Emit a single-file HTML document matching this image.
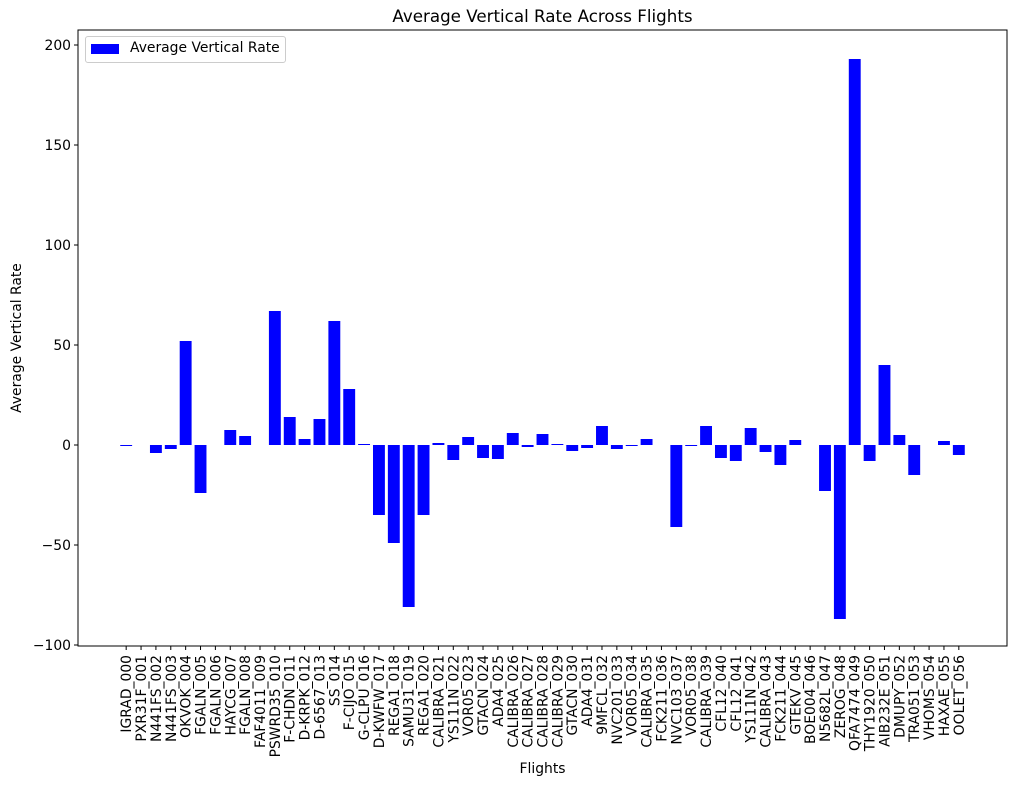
<!DOCTYPE html>
<html><head><meta charset="utf-8"><style>body{margin:0;background:#fff}svg{display:block;font-family:"DejaVu Sans","Liberation Sans",sans-serif}</style></head>
<body>
<svg id="c" width="1017" height="788"></svg>
<script>
const categories=["IGRAD_000","PXR31F_001","N441FS_002","N441FS_003","OKVOK_004","FGALN_005","FGALN_006","HAYCG_007","FGALN_008","FAF4011_009","PSWRD35_010","F-CHDN_011","D-KRPK_012","D-6567_013","SS_014","F-CIJO_015","G-CLPU_016","D-KWFW_017","REGA1_018","SAMU31_019","REGA1_020","CALIBRA_021","YS111N_022","VOR05_023","GTACN_024","ADA4_025","CALIBRA_026","CALIBRA_027","CALIBRA_028","CALIBRA_029","GTACN_030","ADA4_031","9MFCL_032","NVC201_033","VOR05_034","CALIBRA_035","FCK211_036","NVC103_037","VOR05_038","CALIBRA_039","CFL12_040","CFL12_041","YS111N_042","CALIBRA_043","FCK211_044","GTEKV_045","BOE004_046","N5682L_047","ZEROG_048","QFA7474_049","THY1920_050","AIB232E_051","DMUPY_052","TRA051_053","VHOMS_054","HAXAE_055","OOLET_056"];
const values=[-0.5,0,-4,-2,52,-24,0,7.5,4.5,0,67,14,3,13,62,28,0.5,-35,-49,-81,-35,1,-7.5,4,-6.5,-7,6,-1,5.5,0.5,-3,-1.5,9.5,-2,-0.5,3,0,-41,-0.5,9.5,-6.5,-8,8.5,-3.5,-10,2.5,0,-23,-87,193,-8,40,5,-15,0,2,-5];
const yTicks=[-100,-50,0,50,100,150,200];
const NS="http://www.w3.org/2000/svg",svg=document.getElementById('c');
const L=78,R=1007,T=30,B=646;
const n=categories.length;
const dmin=-0.4-0.05*(n-0.2),dmax=n-1+0.4+0.05*(n-0.2);
function x(i){return L+(i-dmin)/(dmax-dmin)*(R-L);}
function y(v){return 445-v*2;}
const bw=0.8*(R-L)/(dmax-dmin);
function el(t,a,p){const e=document.createElementNS(NS,t);for(const k in a)e.setAttribute(k,a[k]);(p||svg).appendChild(e);return e;}
values.forEach((v,i)=>{const r=el('rect',{x:x(i)-bw/2,y:Math.min(y(v),y(0)),width:bw,height:Math.abs(y(v)-y(0)),fill:'#0000ff'});

});
el('rect',{x:L,y:T,width:R-L,height:B-T,fill:'none',stroke:'#000','stroke-width':1});
yTicks.forEach(t=>{el('line',{x1:L-4,x2:L,y1:y(t),y2:y(t),stroke:'#000'});
const tx=el('text',{x:L-7,y:y(t)+5,'text-anchor':'end','font-size':13.9});tx.textContent=t==0?'0':(t<0?'\u2212'+(-t):t);

});
categories.forEach((c,i)=>{const xx=x(i);el('line',{x1:xx,x2:xx,y1:B,y2:B+4,stroke:'#000'});
const tx=el('text',{transform:`translate(${xx+5},${B+9}) rotate(-90)`,'text-anchor':'end','font-size':13.9});tx.textContent=c;

});
</script>
<div style="position:absolute;left:0;top:0;width:1017px;height:788px;pointer-events:none;font-family:'DejaVu Sans','Liberation Sans',sans-serif">
<div style="position:absolute;left:78px;width:929px;top:6px;text-align:center;font-size:16.7px;line-height:20px">Average Vertical Rate Across Flights</div>
<div style="position:absolute;left:78px;width:929px;top:761px;text-align:center;font-size:13.9px;line-height:17px">Flights</div>
<div style="position:absolute;left:17px;top:338px;font-size:13.9px;transform:translate(-50%,-50%) rotate(-90deg);white-space:nowrap">Average Vertical Rate</div>
<div style="position:absolute;left:85px;top:36px;width:199px;height:25px;border:1px solid #ccc;border-radius:3px;background:#fff">
<div style="position:absolute;left:5px;top:7px;width:28px;height:10px;background:#0000ff"></div>
<div style="position:absolute;left:44px;top:3px;font-size:13.9px;line-height:17px">Average Vertical Rate</div>
</div></div>
</body></html>
